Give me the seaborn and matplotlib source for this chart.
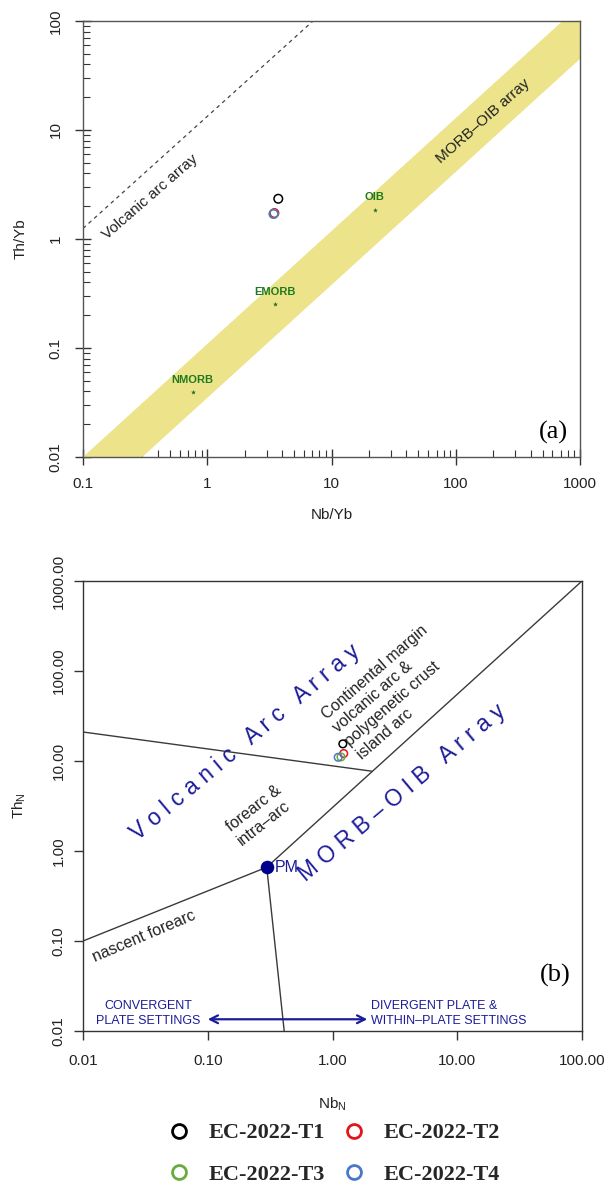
import numpy as np
import pandas as pd
import matplotlib
matplotlib.use("Agg")
import matplotlib.pyplot as plt
from matplotlib.lines import Line2D
from matplotlib.font_manager import FontProperties
import seaborn as sns

# ---------------- data ----------------
samples = ["EC-2022-T1", "EC-2022-T2", "EC-2022-T3", "EC-2022-T4"]
sample_colors = ["#000000", "#e3141c", "#6aab3c", "#4a78c8"]

# panel (a): Nb/Yb vs Th/Yb
a_nb_yb = [3.73, 3.47, 3.42, 3.42]
a_th_yb = [2.34, 1.73, 1.70, 1.70]

ref_names = ["NMORB", "EMORB", "OIB"]
ref_nb_yb = [0.764, 3.50, 22.2]
ref_th_yb = [0.0393, 0.253, 1.85]

band_x = [0.1, 724, 1000, 1000, 0.3]
band_y = [0.01, 100, 100, 44.9, 0.01]
arc_x = [0.1, 7.1]
arc_y = [1.25, 100]

# panel (b): Nb_N vs Th_N
b_nb = [1.21, 1.23, 1.17, 1.11]
b_th = [15.5, 12.1, 11.1, 11.0]

pm_x, pm_y = 0.297, 0.66
line_morb_x = [pm_x, 100]
line_morb_y = [pm_y, 1000]
line_nasc_x = [0.01, pm_x]
line_nasc_y = [0.1, pm_y]
line_vert_x = [pm_x, 0.41]
line_vert_y = [pm_y, 0.01]
line_arc_x = [0.01, 2.07]
line_arc_y = [21, 7.7]
arrow_x = [0.1, 1.9]
arrow_y = 0.0135

a_xticks = [0.1, 1, 10, 100, 1000]
a_xticklabels = ["0.1", "1", "10", "100", "1000"]
a_yticks = [0.01, 0.1, 1, 10, 100]
a_yticklabels = ["0.01", "0.1", "1", "10", "100"]
b_xticks = [0.01, 0.1, 1, 10, 100]
b_xticklabels = ["0.01", "0.10", "1.00", "10.00", "100.00"]
b_yticks = [0.01, 0.1, 1, 10, 100, 1000]
b_yticklabels = ["0.01", "0.10", "1.00", "10.00", "100.00", "1000.00"]

# ---------------- style ----------------
sns.set_theme(style="ticks")
plt.rcParams["font.family"] = ["Liberation Sans", "DejaVu Sans"]
plt.rcParams["mathtext.default"] = "regular"
plt.rcParams["axes.edgecolor"] = "#333333"
plt.rcParams["axes.linewidth"] = 1.0

W, H = 605, 1193
fig = plt.figure(figsize=(W / 100, H / 100), dpi=100)
fig.patch.set_facecolor("white")

def rect(l, t, r, b):
    return [l / W, 1 - b / H, (r - l) / W, (b - t) / H]

navy = "#1c1c9a"
lab_fs = 11

# ================= panel (a) =================
ax = fig.add_axes(rect(83, 21, 580, 457))
ax.set_xscale("log")
ax.set_yscale("log")
ax.set_xlim(0.1, 1000)
ax.set_ylim(0.01, 100)

ax.fill(band_x, band_y, color="#ece38a", lw=0, zorder=1)
ax.plot(arc_x, arc_y, color="#444444", lw=0.9, ls=(0, (3, 3)), zorder=2)

ax.scatter(ref_nb_yb, ref_th_yb, marker="*", s=14, color="#1e6b1e", zorder=3, lw=0)
for nm, xx, yy in zip(ref_names, ref_nb_yb, ref_th_yb):
    ax.annotate(nm, (xx, yy), xytext=(0, 9), textcoords="offset points",
                ha="center", va="center", fontsize=8, fontweight="bold", color="#1e7a1e")

dfa = pd.DataFrame({"sample": samples, "x": a_nb_yb, "y": a_th_yb})
sns.scatterplot(data=dfa, x="x", y="y", hue="sample", palette=sample_colors,
                s=38, legend=False, ax=ax, zorder=5)
coll = ax.collections[-1]
fc = coll.get_facecolors()
coll.set_edgecolors(fc)
coll.set_facecolors("none")
coll.set_linewidths(1.1)

ax.text(0.35, 2.45, "Volcanic arc array", rotation=41, ha="center", va="center",
        fontsize=lab_fs, color="#222222", rotation_mode="anchor")
ax.text(165, 12.0, "MORB\u2013OIB array", rotation=41.5, ha="center", va="center",
        fontsize=lab_fs, color="#222222", rotation_mode="anchor")
ax.text(0.946, 0.057, "(a)", transform=ax.transAxes, ha="center", va="center",
        fontsize=19, family="Liberation Serif", color="black")

ax.set_xticks(a_xticks)
ax.set_xticklabels(a_xticklabels)
ax.set_yticks(a_yticks)
ax.set_yticklabels(a_yticklabels, rotation=90, va="center")
ax.xaxis.set_minor_locator(matplotlib.ticker.LogLocator(base=10, subs=np.arange(2, 10)))
ax.yaxis.set_minor_locator(matplotlib.ticker.LogLocator(base=10, subs=np.arange(2, 10)))
ax.xaxis.set_minor_formatter(matplotlib.ticker.NullFormatter())
ax.yaxis.set_minor_formatter(matplotlib.ticker.NullFormatter())
ax.tick_params(which="major", direction="inout", length=11, width=1, colors="#333333",
               labelsize=11, labelcolor="#222222", pad=5)
ax.tick_params(which="minor", direction="in", length=5, width=0.8, colors="#333333")
ax.tick_params(axis="x", which="major", pad=9)
ax.tick_params(axis="y", which="major", pad=9)
ax.set_xlabel("Nb/Yb", fontsize=11, color="#222222", labelpad=12)
ax.set_ylabel("Th/Yb", fontsize=11, color="#222222", labelpad=15)
for sp in ax.spines.values():
    sp.set_visible(True)
    sp.set_color("#555555")

# ================= panel (b) =================
bx = fig.add_axes(rect(83, 581, 582, 1031))
bx.set_xscale("log")
bx.set_yscale("log")
bx.set_xlim(0.01, 100)
bx.set_ylim(0.01, 1000)

lc = "#3a3a3a"
for xs, ys in [(line_morb_x, line_morb_y), (line_nasc_x, line_nasc_y),
               (line_vert_x, line_vert_y), (line_arc_x, line_arc_y)]:
    bx.plot(xs, ys, color=lc, lw=1.0, zorder=2)

bx.scatter([pm_x], [pm_y], s=95, color="#00008b", zorder=4, lw=0)
bx.text(pm_x * 1.17, pm_y, "PM", ha="left", va="center", fontsize=11.5, color=navy)

dfb = pd.DataFrame({"sample": samples, "x": b_nb, "y": b_th})
sns.scatterplot(data=dfb, x="x", y="y", hue="sample", palette=sample_colors,
                s=30, legend=False, ax=bx, zorder=5)
coll = bx.collections[-1]
fc = coll.get_facecolors()
coll.set_edgecolors(fc)
coll.set_facecolors("none")
coll.set_linewidths(1.1)

bx.text(0.2, 16.0, "V o l c a n i c   A r c   A r r a y", rotation=40,
        ha="center", va="center", fontsize=16.5, color=navy, rotation_mode="anchor")
bx.text(3.6, 4.4, "M O R B \u2013 O I B   A r r a y", rotation=40,
        ha="center", va="center", fontsize=16.5, color=navy, rotation_mode="anchor")
bx.text(3.0, 58, "Continental margin\nvolcanic arc &\npolygenetic crust\nisland arc",
        rotation=41, ha="center", va="center", multialignment="left",
        fontsize=11.5, color="#222222", linespacing=1.22)
bx.text(0.258, 2.5, "forearc &\nintra\u2013arc", rotation=38, ha="center", va="center",
        multialignment="left", fontsize=11.5, color="#222222", linespacing=1.22)
bx.text(0.031, 0.114, "nascent forearc", rotation=23, ha="center", va="center",
        fontsize=11.5, color="#222222", rotation_mode="anchor")

bx.annotate("", xy=(arrow_x[0], arrow_y), xytext=(arrow_x[1], arrow_y),
            arrowprops=dict(arrowstyle="<->", color=navy, lw=1.6,
                            mutation_scale=14, shrinkA=0, shrinkB=0), zorder=3)
bx.text(0.088, 0.0156, "CONVERGENT\nPLATE SETTINGS", ha="right", va="center",
        multialignment="center", fontsize=9, color=navy, linespacing=1.3)
bx.text(2.02, 0.0156, "DIVERGENT PLATE &\nWITHIN\u2013PLATE SETTINGS", ha="left", va="center",
        multialignment="left", fontsize=9, color=navy, linespacing=1.3)
bx.text(0.946, 0.124, "(b)", transform=bx.transAxes, ha="center", va="center",
        fontsize=19, family="Liberation Serif", color="black")

bx.set_xticks(b_xticks)
bx.set_xticklabels(b_xticklabels)
bx.set_yticks(b_yticks)
bx.set_yticklabels(b_yticklabels, rotation=90, va="center")
bx.xaxis.set_minor_locator(matplotlib.ticker.NullLocator())
bx.yaxis.set_minor_locator(matplotlib.ticker.NullLocator())
bx.tick_params(which="major", direction="out", length=6.5, width=1, colors="#333333",
               labelsize=11, labelcolor="#222222", pad=6)
bx.tick_params(axis="x", which="major", pad=10)
bx.set_xlabel(r"Nb$_{N}$", fontsize=11, color="#222222", labelpad=20)
bx.set_ylabel(r"Th$_{N}$", fontsize=11, color="#222222", labelpad=17)
for sp in bx.spines.values():
    sp.set_visible(True)
    sp.set_color("#333333")

# ================= legend =================
handles = [Line2D([], [], marker="o", ls="", mfc="none", mec=c, mew=2.0, ms=10)
           for c in sample_colors]
order = [0, 2, 1, 3]
leg = fig.legend([handles[i] for i in order], [samples[i] for i in order],
                 loc="center", bbox_to_anchor=(334 / W, 1 - 1154 / H), ncol=2,
                 frameon=False, prop=FontProperties(family="Liberation Serif",
                                                    weight="bold", size=16),
                 handlelength=1.0, handletextpad=0.85, columnspacing=0.8,
                 labelspacing=0.95)

fig.savefig("out.png", dpi=100, facecolor="white")
